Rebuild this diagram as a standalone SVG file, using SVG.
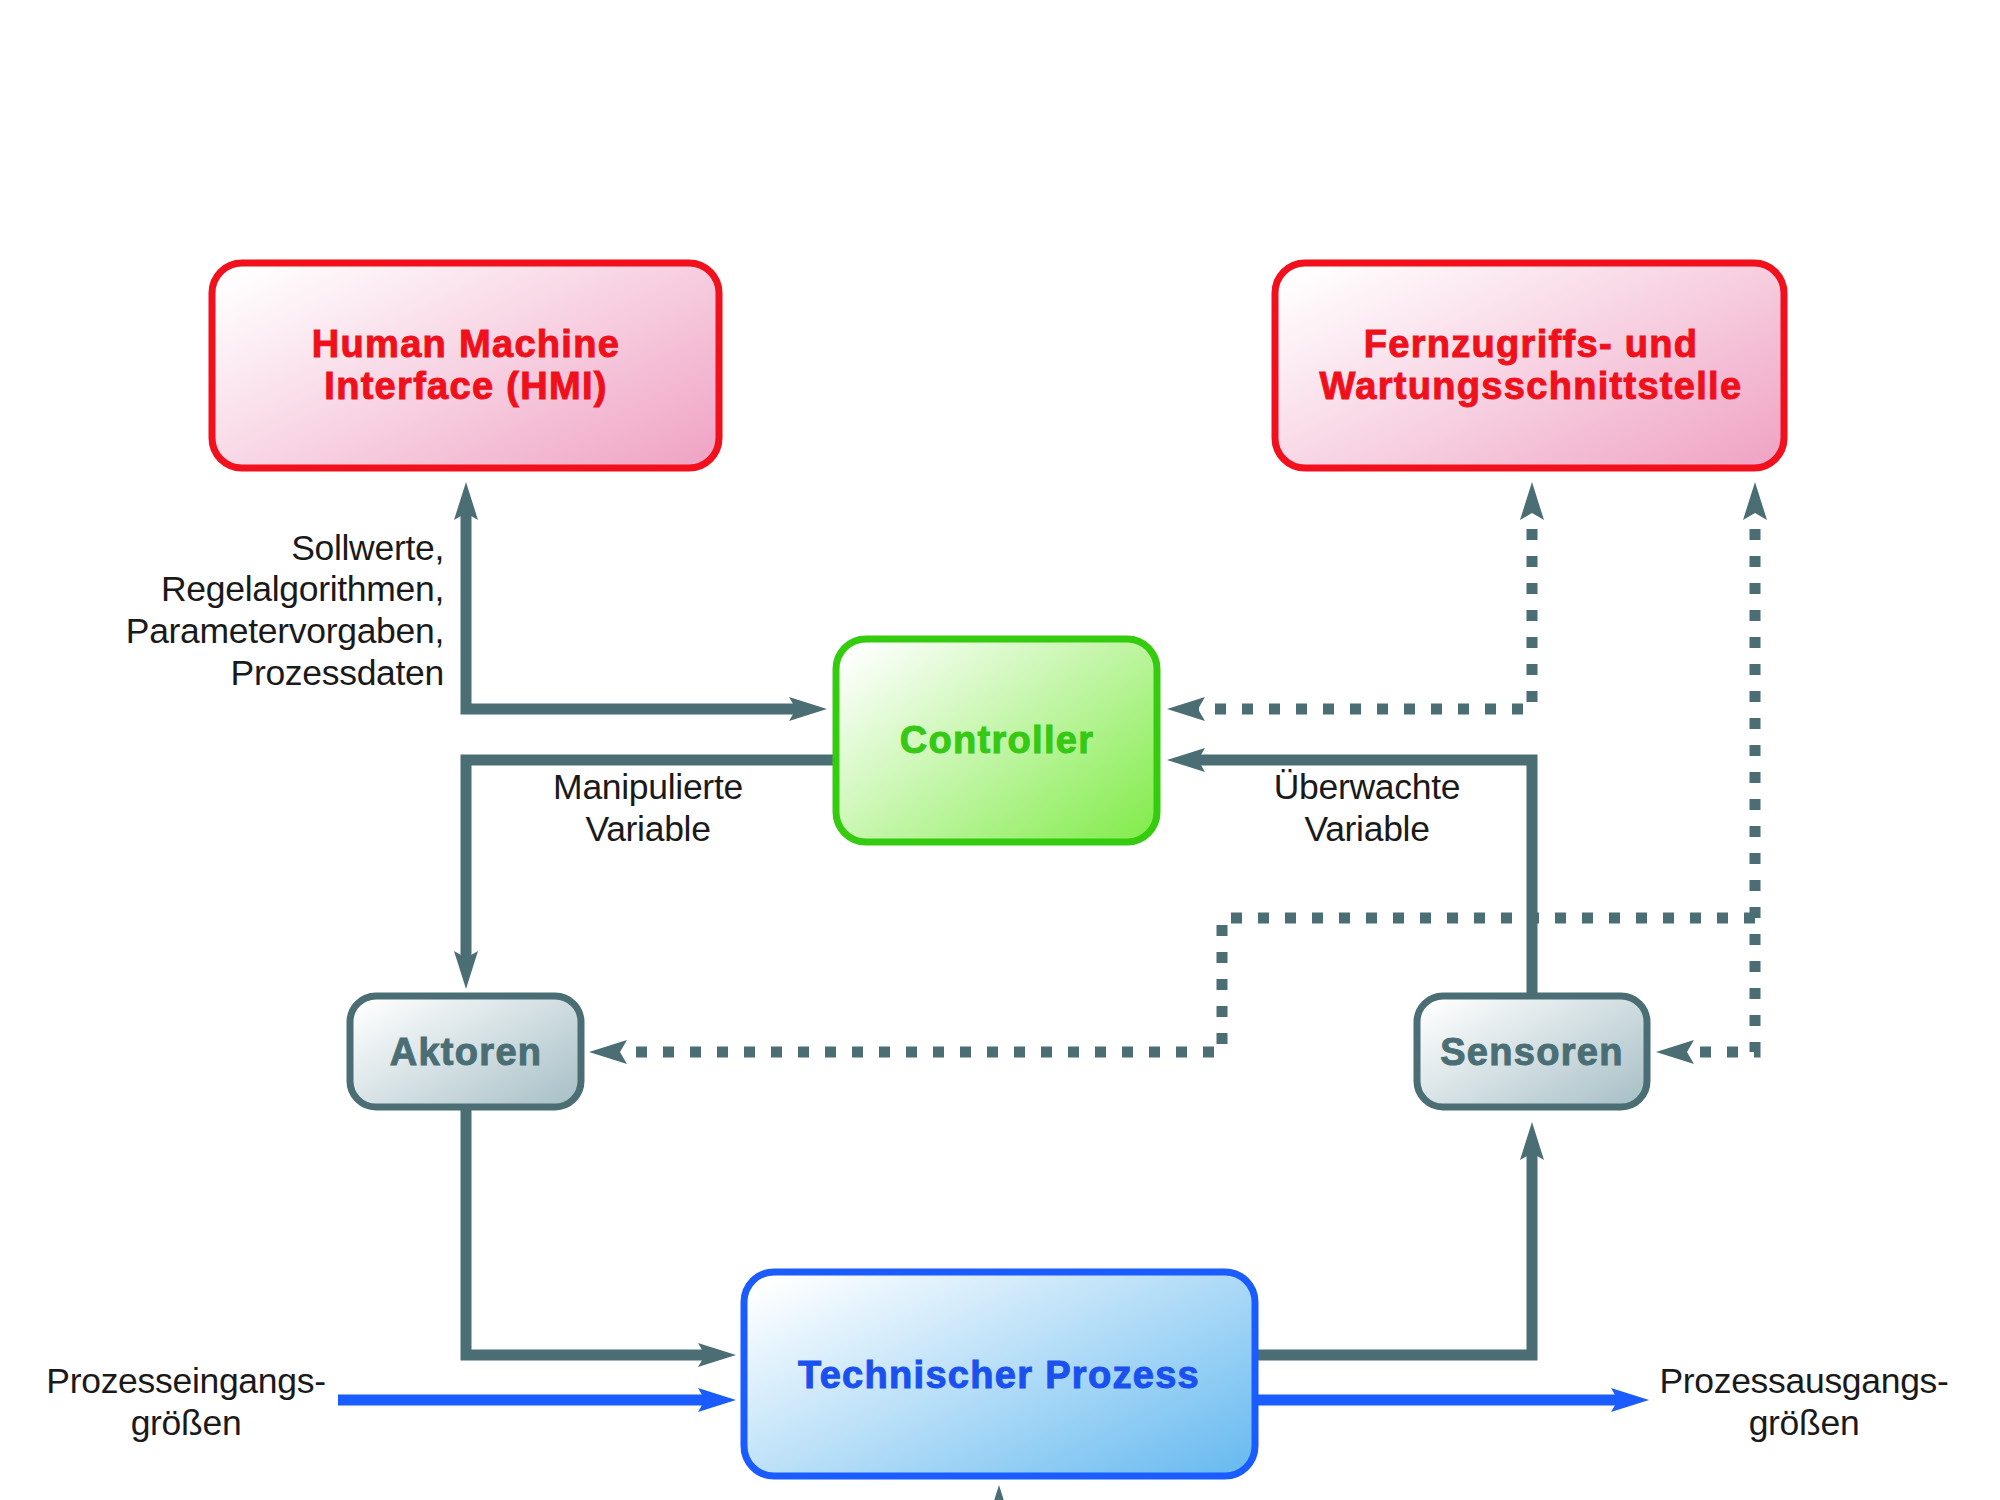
<svg xmlns="http://www.w3.org/2000/svg" width="2000" height="1500" viewBox="0 0 2000 1500">
<defs>
<linearGradient id="gRed" x1="0" y1="0.1" x2="1" y2="0.9"><stop offset="0" stop-color="#ffffff"/><stop offset="1" stop-color="#f0a6c6"/></linearGradient>
<linearGradient id="gGreen" x1="0" y1="0.1" x2="1" y2="0.9"><stop offset="0" stop-color="#ffffff"/><stop offset="1" stop-color="#86ec50"/></linearGradient>
<linearGradient id="gGrey" x1="0" y1="0.1" x2="1" y2="0.9"><stop offset="0" stop-color="#ffffff"/><stop offset="1" stop-color="#a9c1c8"/></linearGradient>
<linearGradient id="gBlue" x1="0" y1="0.1" x2="1" y2="0.9"><stop offset="0" stop-color="#ffffff"/><stop offset="1" stop-color="#6cbcf0"/></linearGradient>
<marker id="ah" markerUnits="userSpaceOnUse" markerWidth="38" markerHeight="24" viewBox="0 0 38 24" refX="18" refY="12" orient="auto-start-reverse"><path d="M0,0 L38,12 L0,24 L7,12 z" fill="#4a6e74"/></marker>
<marker id="ahb" markerUnits="userSpaceOnUse" markerWidth="38" markerHeight="24" viewBox="0 0 38 24" refX="18" refY="12" orient="auto-start-reverse"><path d="M0,0 L38,12 L0,24 L7,12 z" fill="#1a5cff"/></marker>
</defs>
<style>
.node rect{stroke-width:7}
.red rect{fill:url(#gRed);stroke:#f2101c}
.red text{fill:#f0101c;stroke:#f0101c}
.green rect{fill:url(#gGreen);stroke:#35cc10}
.green text{fill:#35c814;stroke:#35c814}
.grey rect{fill:url(#gGrey);stroke:#4a6e74}
.grey text{fill:#4a6e74;stroke:#4a6e74}
.blue rect{fill:url(#gBlue);stroke:#1a5cff}
.blue text{fill:#1a50ee;stroke:#1a50ee}
.node text{font-family:"Liberation Sans",Arial,sans-serif;font-weight:bold;font-size:38px;letter-spacing:1.3px;text-anchor:middle;stroke-width:1}
.lbl{font-family:"Liberation Sans",Arial,sans-serif;font-size:35.5px;fill:#1a1a1a;letter-spacing:-0.3px}
.c{fill:none;stroke:#4a6e74;stroke-width:11}
.d{fill:none;stroke:#4a6e74;stroke-width:11;stroke-dasharray:11 16}
.b{fill:none;stroke:#1a5cff;stroke-width:11}
</style>
<rect width="2000" height="1500" fill="#ffffff"/>
<g id="connectors">
<path class="c" d="M466,502 L466,709 L807,709" marker-start="url(#ah)" marker-end="url(#ah)"/>
<path class="c" d="M836,760 L466,760 L466,969" marker-end="url(#ah)"/>
<path class="d" d="M1532,502 L1532,709 L1187,709" marker-start="url(#ah)" marker-end="url(#ah)"/>
<path class="c" d="M1532,994 L1532,760 L1187,760" marker-end="url(#ah)"/>
<path class="d" d="M1755,502 L1755,1052 L1676,1052" marker-start="url(#ah)" marker-end="url(#ah)"/>
<path class="d" d="M1755,918 L1222,918 L1222,1052 L609,1052" marker-end="url(#ah)"/>
<path class="c" d="M466,1108 L466,1355 L716,1355" marker-end="url(#ah)"/>
<path class="b" d="M338,1400 L716,1400" marker-end="url(#ahb)"/>
<path class="c" d="M1256,1355 L1532,1355 L1532,1142" marker-end="url(#ah)"/>
<path class="b" d="M1256,1400 L1629,1400" marker-end="url(#ahb)"/>
<path class="c" d="M999,1530 L999,1505" marker-end="url(#ah)"/>
</g>
<g id="hmi" class="node red"><rect x="212" y="263" width="507" height="205" rx="30"/><text x="466" y="357">Human Machine</text><text x="466" y="399">Interface (HMI)</text></g>
<g id="fern" class="node red"><rect x="1275" y="263" width="509" height="205" rx="30"/><text x="1531" y="357">Fernzugriffs- und</text><text x="1531" y="399">Wartungsschnittstelle</text></g>
<g id="controller" class="node green"><rect x="836" y="639" width="321" height="203" rx="30"/><text x="997" y="753">Controller</text></g>
<g id="aktoren" class="node grey"><rect x="350" y="996" width="231" height="111" rx="26"/><text x="466" y="1065">Aktoren</text></g>
<g id="sensoren" class="node grey"><rect x="1417" y="996" width="230" height="111" rx="26"/><text x="1532" y="1065">Sensoren</text></g>
<g id="prozess" class="node blue"><rect x="744" y="1272" width="511" height="204" rx="30"/><text x="999" y="1388">Technischer Prozess</text></g>
<g id="labels">
<text class="lbl" text-anchor="end" x="444" y="560">Sollwerte,</text>
<text class="lbl" text-anchor="end" x="444" y="601">Regelalgorithmen,</text>
<text class="lbl" text-anchor="end" x="444" y="643">Parametervorgaben,</text>
<text class="lbl" text-anchor="end" x="444" y="685">Prozessdaten</text>
<text class="lbl" text-anchor="middle" x="648" y="799">Manipulierte</text>
<text class="lbl" text-anchor="middle" x="648" y="841">Variable</text>
<text class="lbl" text-anchor="middle" x="1367" y="799">Überwachte</text>
<text class="lbl" text-anchor="middle" x="1367" y="841">Variable</text>
<text class="lbl" text-anchor="middle" x="186" y="1393">Prozesseingangs-</text>
<text class="lbl" text-anchor="middle" x="186" y="1435">größen</text>
<text class="lbl" text-anchor="middle" x="1804" y="1393">Prozessausgangs-</text>
<text class="lbl" text-anchor="middle" x="1804" y="1435">größen</text>
</g>
</svg>
